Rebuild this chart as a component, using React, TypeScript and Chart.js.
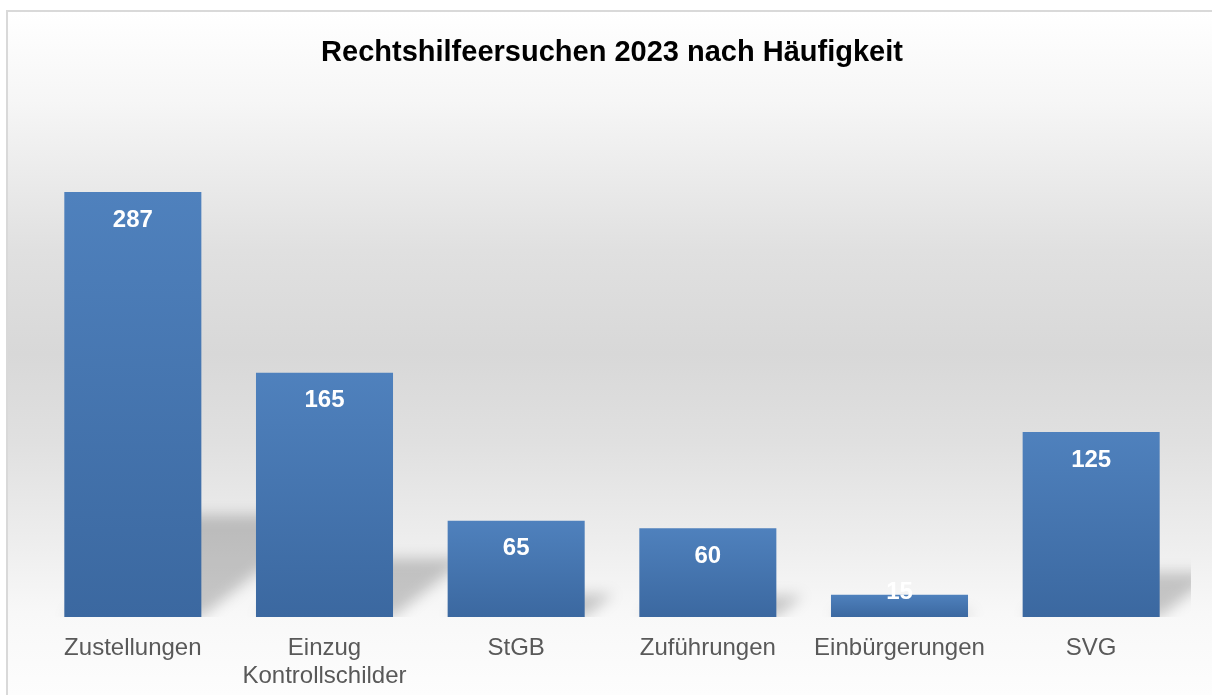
import React, { useEffect, useRef } from "react";
import { Chart, registerables } from "chart.js";

Chart.register(...registerables);

const TITLE = "Rechtshilfeersuchen 2023 nach Häufigkeit";
const categories: (string | string[])[] = [
  "Zustellungen",
  ["Einzug", "Kontrollschilder"],
  "StGB",
  "Zuführungen",
  "Einbürgerungen",
  "SVG",
];
const values: number[] = [287, 165, 65, 60, 15, 125];
const Y_MIN = 0;
const Y_MAX = 350;

const FONT = "'Liberation Sans', Arial, sans-serif";

const backgroundPlugin = {
  id: "bgPlugin",
  beforeDraw(chart: any) {
    const { ctx, width, height } = chart;
    ctx.save();
    ctx.fillStyle = "#ffffff";
    ctx.fillRect(0, 0, width, height);
    const g = ctx.createLinearGradient(0, 12, 0, height);
    g.addColorStop(0, "#ffffff");
    g.addColorStop(0.13, "#f6f6f6");
    g.addColorStop(0.35, "#e0e0e0");
    g.addColorStop(0.5, "#d8d8d8");
    g.addColorStop(0.63, "#e0e0e0");
    g.addColorStop(0.77, "#ededed");
    g.addColorStop(0.88, "#f8f8f8");
    g.addColorStop(1, "#fdfdfd");
    ctx.fillStyle = g;
    ctx.fillRect(8, 12, width - 8, height - 12);
    ctx.fillStyle = "#d9d9d9";
    ctx.fillRect(6, 10, width - 6, 2);
    ctx.fillRect(6, 10, 2, height - 10);
    ctx.restore();
  },
  beforeDatasetsDraw(chart: any) {
    const { ctx, chartArea } = chart;
    const meta = chart.getDatasetMeta(0);
    ctx.save();
    ctx.beginPath();
    ctx.rect(chartArea.left, chartArea.top, chartArea.right + 4 - chartArea.left, chartArea.bottom - chartArea.top);
    ctx.clip();
    ctx.filter = "blur(7px)";
    ctx.fillStyle = "rgba(0,0,0,0.2)";
    meta.data.forEach((bar: any) => {
      const L = bar.x - bar.width / 2;
      const R = bar.x + bar.width / 2;
      const B = bar.base;
      const h = B - bar.y;
      const sy = 0.24 * h;
      const sx = 0.3 * h;
      ctx.beginPath();
      ctx.moveTo(L, B);
      ctx.lineTo(R, B);
      ctx.lineTo(R + sx, B - sy);
      ctx.lineTo(L + sx, B - sy);
      ctx.closePath();
      ctx.fill();
    });
    ctx.restore();
  },
  afterDatasetsDraw(chart: any) {
    const { ctx } = chart;
    const meta = chart.getDatasetMeta(0);
    const data = chart.data.datasets[0].data;
    ctx.save();
    ctx.font = `bold 24px ${FONT}`;
    ctx.fillStyle = "#ffffff";
    ctx.textAlign = "center";
    ctx.textBaseline = "middle";
    meta.data.forEach((bar: any, i: number) => {
      const h = bar.base - bar.y;
      const y = h > 60 ? bar.y + 28 : bar.base - 25;
      ctx.fillText(String(data[i]), bar.x, y);
    });
    ctx.restore();
  },
};

export default function App() {
  const ref = useRef<HTMLCanvasElement | null>(null);
  useEffect(() => {
    if (!ref.current) return;
    const chart = new Chart(ref.current, {
      type: "bar",
      data: {
        labels: categories as any,
        datasets: [
          {
            data: values,
            backgroundColor: (c: any) => {
              const ch = c.chart;
              const y = ch.scales && ch.scales.y;
              if (!y || c.raw === undefined) return "#4a7ab5";
              const top = y.getPixelForValue(c.raw);
              const bottom = y.getPixelForValue(0);
              if (!isFinite(top) || !isFinite(bottom) || top === bottom) return "#4a7ab5";
              const g = ch.ctx.createLinearGradient(0, top, 0, bottom);
              g.addColorStop(0, "#4f81bd");
              g.addColorStop(1, "#3b68a0");
              return g;
            },
            borderWidth: 0,
            categoryPercentage: 1,
            barPercentage: 0.715,
          },
        ],
      },
      options: {
        responsive: false,
        animation: false,
        devicePixelRatio: 1,
        layout: { padding: { left: 37, right: 25, top: 0, bottom: 0 } },
        plugins: {
          legend: { display: false },
          tooltip: { enabled: false },
          title: {
            display: true,
            text: TITLE,
            color: "#000000",
            font: { family: FONT, size: 29, weight: "bold", lineHeight: 1.2 },
            padding: { top: 36, bottom: 28 },
          },
        },
        scales: {
          x: {
            grid: { display: false, drawTicks: false },
            border: { display: false },
            ticks: {
              color: "#595959",
              font: { family: FONT, size: 24, lineHeight: 1.15 },
              padding: 18,
              maxRotation: 0,
              autoSkip: false,
            },
            afterFit: (s: any) => {
              s.height = 78;
            },
          },
          y: {
            display: false,
            min: Y_MIN,
            max: Y_MAX,
          },
        },
      },
      plugins: [backgroundPlugin],
    });
    return () => chart.destroy();
  }, []);
  return (
    <div style={{ position: "absolute", left: 0, top: 0, width: 1212, height: 695 }}>
      <canvas ref={ref} width={1212} height={695} style={{ display: "block" }} />
    </div>
  );
}
